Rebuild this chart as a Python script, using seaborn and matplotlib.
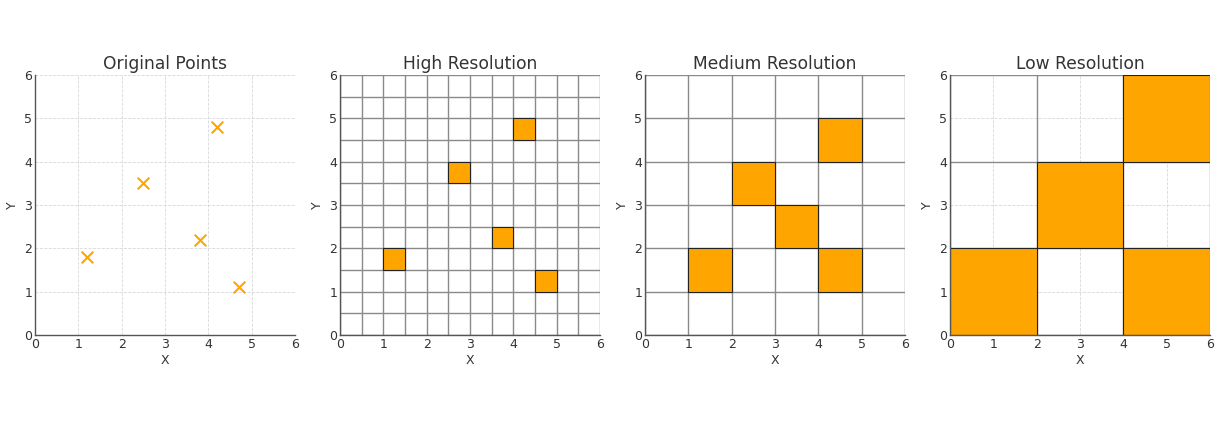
import matplotlib
matplotlib.use("Agg")
import matplotlib.pyplot as plt
import seaborn as sns
import pandas as pd
import numpy as np

# Data
point_x = [1.2, 2.5, 3.8, 4.2, 4.7]
point_y = [1.8, 3.5, 2.2, 4.8, 1.1]

high_size = 0.5
high_cells_x = [1.0, 2.5, 3.5, 4.0, 4.5]
high_cells_y = [1.5, 3.5, 2.0, 4.5, 1.0]

med_size = 1.0
med_cells_x = [1, 2, 3, 4, 4]
med_cells_y = [1, 3, 2, 4, 1]

low_size = 2.0
low_cells_x = [0, 2, 4, 4]
low_cells_y = [0, 2, 4, 0]

titles = ["Original Points", "High Resolution", "Medium Resolution", "Low Resolution"]
ticks = [0, 1, 2, 3, 4, 5, 6]

sns.set_theme(style="white")
plt.rcParams['font.family'] = ['DejaVu Sans']

fig = plt.figure(figsize=(12.29, 4.21), dpi=100)
W, H = 1229, 421
lefts = [35, 340, 645, 950]
axes = []
for l in lefts:
    ax = fig.add_axes([l / W, 1 - 335 / H, 260 / W, 260 / H])
    axes.append(ax)

text_color = "#333333"
spine_color = "#555555"

def style(ax, title):
    ax.set_xlim(0, 6)
    ax.set_ylim(0, 6)
    ax.set_xticks(ticks)
    ax.set_yticks(ticks)
    ax.grid(True, linestyle="--", color="#d8d8d8", linewidth=0.6)
    ax.set_axisbelow(True)
    for s in ["top", "right"]:
        ax.spines[s].set_visible(False)
    for s in ["left", "bottom"]:
        ax.spines[s].set_color(spine_color)
        ax.spines[s].set_linewidth(1.0)
    ax.tick_params(length=0, pad=2, labelsize=9, colors=text_color)
    ax.set_title(title, fontsize=12.3, color=text_color, pad=4)
    ax.set_xlabel("X", fontsize=9, color=text_color, labelpad=2)
    ax.set_ylabel("Y", fontsize=9, color=text_color, labelpad=4)
    ax.set_facecolor("white")

# Original points
df = pd.DataFrame({"x": point_x, "y": point_y})
ax = axes[0]
sns.scatterplot(data=df, x="x", y="y", ax=ax, marker="x", color="orange", s=70, linewidth=1.5, zorder=3)
style(ax, titles[0])

def grid_panel(ax, size, cx, cy, title):
    style(ax, title)
    n = int(round(6 / size))
    for i in range(n + 1):
        v = i * size
        ax.axvline(v, color="#8a8a8a", linewidth=1.0, zorder=1)
        ax.axhline(v, color="#8a8a8a", linewidth=1.0, zorder=1)
    ax.bar(cx, [size] * len(cx), width=size, bottom=cy, align="edge",
           color="orange", edgecolor="#222222", linewidth=0.8, zorder=2)
    ax.set_xlim(0, 6)
    ax.set_ylim(0, 6)

grid_panel(axes[1], high_size, high_cells_x, high_cells_y, titles[1])
grid_panel(axes[2], med_size, med_cells_x, med_cells_y, titles[2])
grid_panel(axes[3], low_size, low_cells_x, low_cells_y, titles[3])

for ax in axes:
    for s in ["left", "bottom"]:
        ax.spines[s].set_zorder(5)

fig.savefig("out.png", dpi=100, facecolor="white")
